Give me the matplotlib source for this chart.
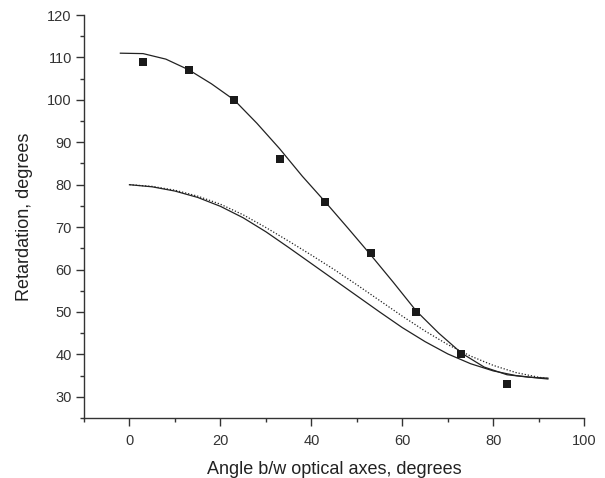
import matplotlib
matplotlib.use("Agg")
import matplotlib.pyplot as plt
from matplotlib.ticker import MultipleLocator

plt.rcParams['font.family'] = ['Liberation Sans', 'DejaVu Sans']

# measured data points
data_x = [3, 13, 23, 33, 43, 53, 63, 73, 83]
data_y = [109, 107, 100, 86, 76, 64, 50, 40, 33]

# upper fitted curve (solid)
upper_x = [-2, 3, 8, 13, 18, 23, 28, 33, 38, 43, 48, 53, 58, 63, 68, 73, 78, 83, 88, 92]
upper_y = [111.0, 110.9, 109.6, 107.1, 103.8, 100.0, 94.5, 88.5, 82.0, 76.0,
           69.8, 63.5, 57.0, 50.3, 45.0, 40.3, 37.0, 35.2, 34.6, 34.4]

# lower curves
lower_x = [0, 5, 10, 15, 20, 25, 30, 35, 40, 45, 50, 55, 60, 65, 70, 75, 80, 85, 90, 92]
lower_solid_y = [80.0, 79.5, 78.5, 77.0, 74.9, 72.2, 68.9, 65.2, 61.4, 57.6,
                 53.8, 50.0, 46.3, 43.0, 40.1, 37.8, 36.1, 35.0, 34.4, 34.2]
lower_dotted_y = [80.0, 79.6, 78.7, 77.3, 75.4, 72.9, 69.9, 66.7, 63.4, 60.0,
                  56.4, 52.7, 49.0, 45.5, 42.3, 39.6, 37.4, 35.7, 34.6, 34.3]

fig = plt.figure(figsize=(6.05, 4.78), dpi=100)
ax = fig.add_axes([0.1388, 0.1255, 0.8270, 0.8431])

lc = '#222222'
ax.plot(upper_x, upper_y, color=lc, lw=0.9)
ax.plot(lower_x, lower_solid_y, color=lc, lw=0.9)
ax.plot(lower_x, lower_dotted_y, color=lc, lw=0.9, linestyle=(0, (1, 1.5)))
ax.plot(data_x, data_y, linestyle='none', marker='s', markersize=6,
        color='#1a1a1a', markeredgewidth=0)

ax.set_xlim(-10, 100)
ax.set_ylim(25, 120)
ax.xaxis.set_major_locator(MultipleLocator(20))
ax.xaxis.set_minor_locator(MultipleLocator(10))
ax.yaxis.set_major_locator(MultipleLocator(10))
ax.yaxis.set_minor_locator(MultipleLocator(5))

for s in ['top', 'right']:
    ax.spines[s].set_visible(False)
for s in ['left', 'bottom']:
    ax.spines[s].set_color('#333333')
    ax.spines[s].set_linewidth(1.0)

ax.tick_params(which='major', direction='out', length=5.8, width=1.0,
               color='#333333', labelsize=10.5, labelcolor='#333333', pad=3)
ax.tick_params(which='minor', direction='out', length=3, width=1.0, color='#333333')
ax.tick_params(axis='x', which='major', pad=6)

ax.set_xlabel('Angle b/w optical axes, degrees', fontsize=13, color='#222222', labelpad=9)
ax.set_ylabel('Retardation, degrees', fontsize=13, color='#222222', labelpad=10)

fig.savefig('out.png', dpi=100)
